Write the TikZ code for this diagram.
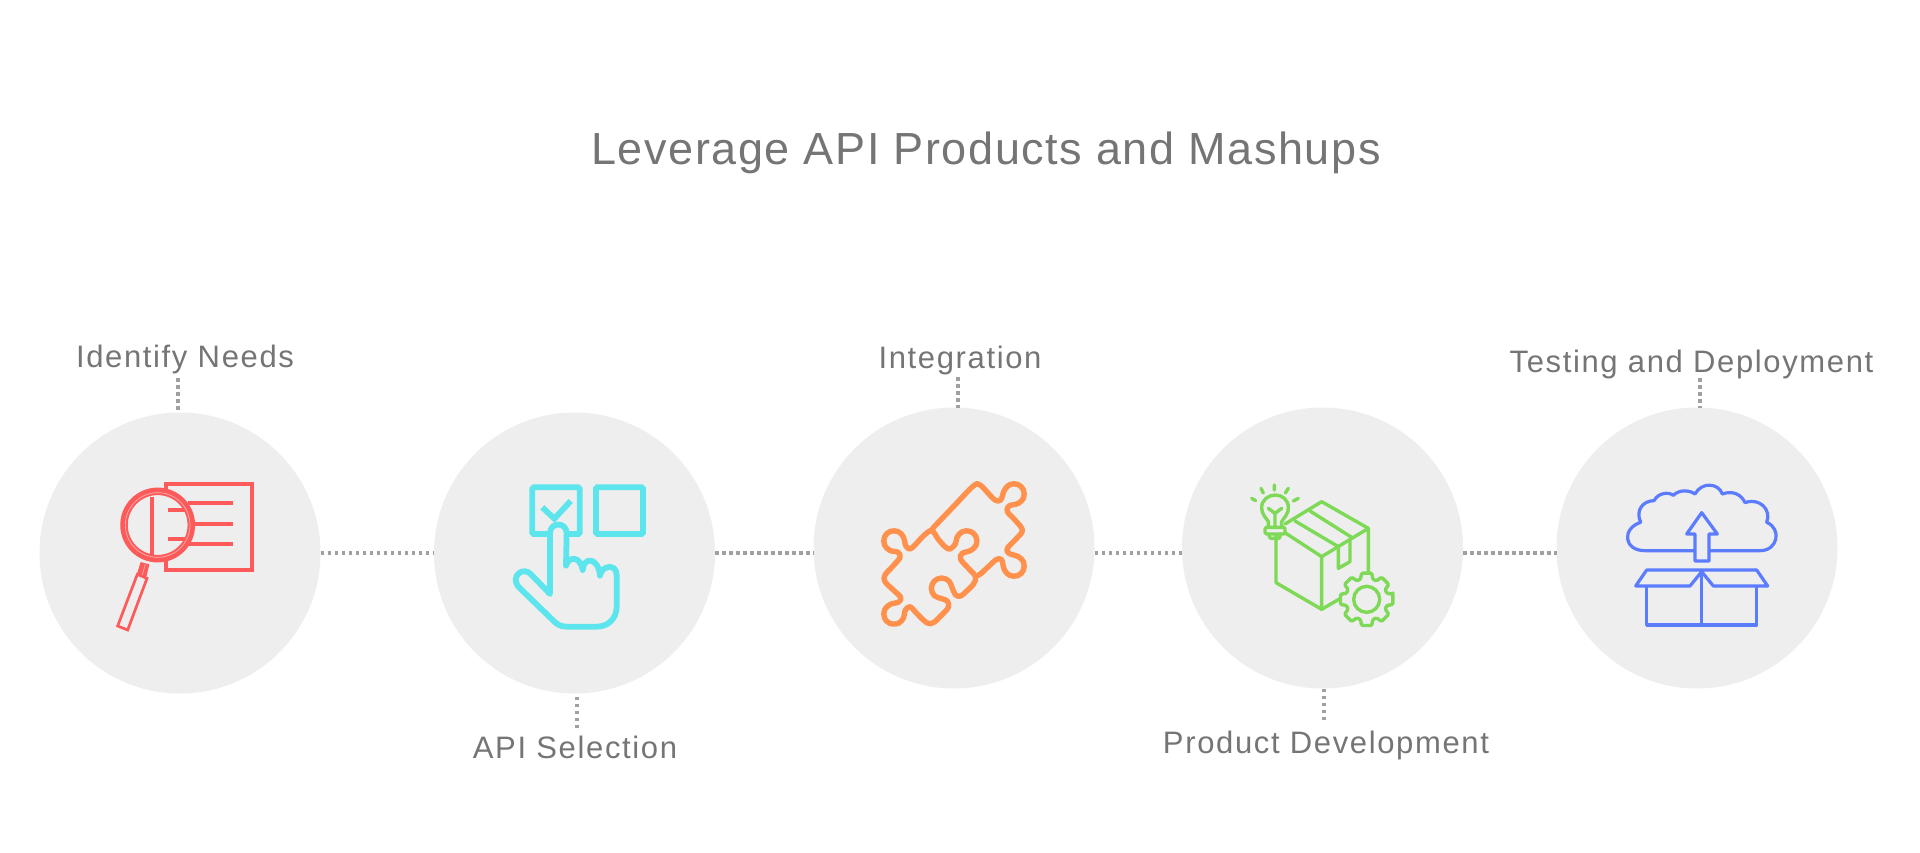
\documentclass[tikz,border=0pt]{standalone}
\usepackage{fontspec}
\setmainfont{Liberation Sans}
\newfontfamily\titlefont[LetterSpace=3.5]{Liberation Sans}
\newfontfamily\labfont[LetterSpace=5.3]{Liberation Sans}
\definecolor{bgc}{HTML}{EEEEEE}
\definecolor{txtc}{HTML}{757575}
\definecolor{dotc}{HTML}{A0A0A0}
\definecolor{redc}{HTML}{FF5A5A}
\definecolor{redl}{HTML}{FAB0B0}
\definecolor{cyanc}{HTML}{5CE5EC}
\definecolor{orangec}{HTML}{FF914D}
\definecolor{greenc}{HTML}{7ED957}
\definecolor{bluec}{HTML}{5C7CFF}
\tikzset{
  disc/.style={circle,fill=bgc,minimum size=281pt,inner sep=0pt,outer sep=0pt},
  lab/.style={anchor=base,inner sep=0pt,text=txtc,font=\labfont\fontsize{31}{36}\selectfont},
  ttl/.style={anchor=base,inner sep=0pt,text=txtc,font=\titlefont\fontsize{45}{52}\selectfont},
  dots/.style={draw=dotc,line width=4pt,dash pattern=on 3.5pt off 3.5pt},
  zoomed/.style={x=0.33333pt,y=-0.33333pt}
}
\begin{document}
\begin{tikzpicture}[x=1pt,y=-1pt]
\useasboundingbox (0,0) rectangle (1920,852);
\fill[white] (0,0) rectangle (1920,852);
\node[ttl] (title) at (986,164) {Leverage API Products and Mashups};

\node[disc] (c1) at (180,553) {};
\node[disc] (c2) at (574.5,553) {};
\node[disc] (c3) at (954,548) {};
\node[disc] (c4) at (1322.5,548) {};
\node[disc] (c5) at (1697,548) {};

\node[lab] (l1) at (185,367) {Identify Needs};
\node[lab] (l2) at (575,758) {API Selection};
\node[lab] (l3) at (960,368) {Integration};
\node[lab] (l4) at (1326,753) {Product Development};
\node[lab] (l5) at (1691.5,372) {Testing and Deployment};

\draw[dots] (c1.east) -- (c2.west);
\draw[dots] (c2.east) -- (c2.east -| c3.west);
\draw[dots] (c2.east -| c3.east) -- (c2.east -| c4.west);
\draw[dots] (c2.east -| c4.east) -- (c2.east -| c5.west);

\coordinate (t1) at (178,378);
\coordinate (t2) at (576.7,728);
\coordinate (t3) at (957.7,377);
\coordinate (t4) at (1323.7,720);
\coordinate (t5) at (1699.6,378);
\draw[dots] (t1) -- (t1 |- c1.north);
\draw[dots] (t2) -- (t2 |- c2.south);
\draw[dots] (t3) -- (t3 |- c3.north);
\draw[dots] (t4) -- (t4 |- c4.south);
\draw[dots] (t5) -- (t5 |- c5.north);

% ---- icon 1
\begin{scope}[shift={(20,330)},zoomed,draw=redc]
  \draw[line width=4pt] (437,461) rectangle (696,721);
  \draw[line width=3.8pt] (505,520) -- (640,520) (505,581) -- (640,581) (505,643) -- (640,643);
  \fill[bgc] (413,585) circle (105);
  \draw[line width=3.8pt] (395,500) -- (395,682) (445,540) -- (495,540) (445,628) -- (495,628);
  \draw[line width=7.5pt] (413,585) circle (101);
  \draw[redl,line width=0.7pt] (413,585) circle (97);
  \fill[redc] (362,696) -- (388,703) -- (378,745) -- (350,735) -- cycle;
  \draw[redl,line width=0.7pt] (376,703) -- (366,738);
  \draw[line width=2.7pt,fill=bgc] (352,733) -- (381,745) -- (323,900) -- (293,888) -- cycle;
\end{scope}

% ---- icon 2
\begin{scope}[shift={(420,400)},zoomed,draw=cyanc,line width=5.8pt]
  \draw[rounded corners=1.5pt] (337,262) rectangle (479,402);
  \draw[rounded corners=1.5pt] (528,262) rectangle (669,402);
  \draw (367,322) -- (403,356) -- (452,303);
  \draw[fill=bgc,line join=round,line cap=round]
    (390,582) -- (390,400)
    .. controls (390,365) and (440,365) .. (440,400)
    -- (438,497)
    .. controls (445,470) and (480,465) .. (488,510)
    .. controls (490,470) and (535,470) .. (540,527)
    .. controls (545,495) and (590,490) .. (590,525)
    -- (590,620)
    .. controls (590,655) and (565,680) .. (530,680)
    -- (440,680)
    .. controls (420,680) and (410,672) .. (398,660)
    -- (295,560)
    .. controls (270,530) and (310,495) .. (335,525)
    -- cycle;
\end{scope}

% ---- icon 3
\begin{scope}[shift={(810,400)},zoomed,draw=orangec,line width=5.4pt,line join=round,line cap=round]
  \draw plot[smooth cycle,tension=0.6] coordinates {
   (365,392) (340,408) (315,435) (300,447) (287,437) (281,412) (265,395) (241,394) (224,410) (223,434) (239,451)
   (264,457) (270,472) (250,497) (225,525) (225,545) (250,570) (272,592) (266,606)
   (241,613) (224,629) (223,653) (239,670) (265,670) (281,653) (285,632) (300,620) (320,640) (350,668) (370,668) (395,645)
   (415,622) (412,603) (395,596) (373,587) (364,565) (373,543) (395,534) (417,543) (427,565)
   (437,585) (452,588) (470,573) (490,553) (497,530) (480,510) (452,478) (457,460) (483,451)
   (499,434) (498,410) (481,394) (457,395) (441,412) (436,432) (420,447) (405,440) (385,418)};
  \draw plot[smooth,tension=0.6] coordinates {
   (368,385) (430,320) (490,258) (510,255) (535,280) (555,300) (572,300) (583,271) (599,254) (623,253)
   (640,269) (641,293) (625,310) (597,318) (592,335) (615,360) (637,390) (620,415) (592,445) (597,460)
   (625,470) (641,487) (640,511) (623,527) (599,526) (583,509) (575,480) (560,478) (535,500) (510,523) (497,528)};
\end{scope}

% ---- icon 4
\begin{scope}[shift={(1200,450)},zoomed,draw=greenc,line width=3.4pt,line join=round,line cap=round]
  \draw (228,250) -- (228,398) -- (365,478) -- (365,320) -- (505,235) -- (505,380);
  \draw (365,478) -- (430,440);
  \draw (250,245) -- (365,320);
  \draw (255,222) -- (365,155) -- (505,235);
  \draw (285,213) -- (415,290) -- (415,355) -- (450,335) -- (450,268);
  \draw (330,183) -- (455,262);
  \begin{scope}[shift={(500,448)}]
    \draw[fill=bgc,rounded corners=1.2pt] (-11:80)
      \foreach \a in {0,45,...,315}{ -- (\a-11:80) -- (\a+11:80) -- (\a+17:63) -- (\a+28:63)} -- cycle;
    \draw (0,0) circle (39);
  \end{scope}
  \draw[fill=bgc] (205,228) -- (205,215) .. controls (200,205) and (185,195) .. (185,172)
     .. controls (185,150) and (205,135) .. (226,135) .. controls (247,135) and (265,150) .. (265,172)
     .. controls (265,195) and (250,205) .. (245,215) -- (245,228);
  \draw[fill=bgc,rounded corners=1.5pt] (195,232) rectangle (255,252);
  \draw[rounded corners=1.5pt] (208,252) -- (208,265) -- (240,265) -- (240,252);
  \draw (205,175) -- (225,190) -- (245,175) (225,190) -- (225,230);
  \draw (155,145) -- (167,152) (183,115) -- (190,129) (223,105) -- (223,120) (265,115) -- (256,129) (295,145) -- (280,153);
\end{scope}

% ---- icon 5
\begin{scope}[shift={(1590,460)},zoomed,draw=bluec,line width=3.2pt,line join=round]
  \draw (313,272) -- (165,272) .. controls (100,272) and (95,205) .. (152,187)
    .. controls (135,150) and (160,122) .. (192,122)
    .. controls (205,98) and (235,95) .. (250,106)
    .. controls (265,90) and (295,88) .. (315,102)
    .. controls (335,65) and (385,68) .. (397,102)
    .. controls (430,90) and (455,105) .. (465,128)
    .. controls (510,112) and (545,150) .. (530,187)
    .. controls (575,205) and (565,272) .. (510,272)
    -- (358,272);
  \draw (315,303) -- (315,222) -- (290,222) -- (335,158) -- (382,222) -- (357,222) -- (357,303) -- cycle;
  \draw (170,378) -- (170,495) -- (500,495) -- (500,378);
  \draw (335,335) -- (335,495);
  \draw (335,335) -- (300,378) -- (137,378) -- (170,330) -- (500,330) -- (533,378) -- (370,378) -- cycle;
\end{scope}
\end{tikzpicture}
\end{document}
